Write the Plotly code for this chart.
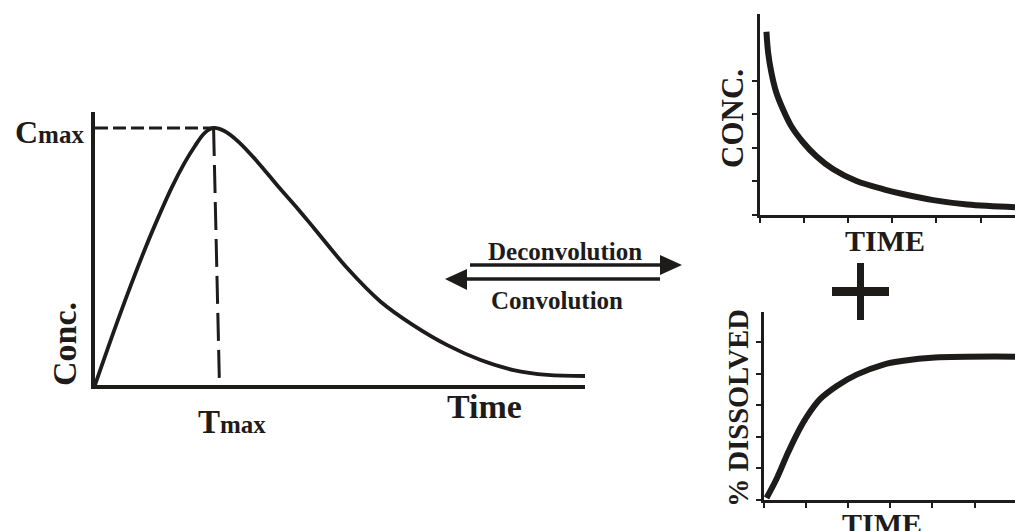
import plotly.graph_objects as go

B, H = 1015, 531
SCHWARZ = "#1e1b1b"
SCHRIFT = "Liberation Serif"

# Hauptkurve: Plasmaspiegel nach oraler Gabe
zeit = [0, 0.51, 1.02, 1.30, 1.57, 1.83, 2.03, 2.24, 2.42, 2.64, 2.93, 3.33, 3.74, 4.15, 4.47,
        5.16, 5.83, 6.50, 7.20, 7.87, 8.54, 9.23, 10.0]
konz = [0, 2.75, 5.29, 6.56, 7.70, 8.65, 9.27, 9.81, 10.0, 9.88, 9.46, 8.65, 7.72, 6.83, 6.10,
        4.52, 3.24, 2.32, 1.54, 0.97, 0.58, 0.39, 0.35]
tmax_fuss = 2.54  # Fusspunkt der Tmax-Linie auf der Zeitachse

# Einheitsantwort (i.v.)
zeit_ir = [0.157, 0.196, 0.27, 0.38, 0.53, 0.72, 0.98, 1.28, 1.66, 2.18, 2.85, 3.19, 3.93, 4.70, 5.78]
konz_ir = [5.47, 4.84, 4.24, 3.65, 3.15, 2.64, 2.17, 1.75, 1.36, 1.01, 0.74, 0.63, 0.43, 0.30, 0.22]

# Freisetzungsprofil
zeit_diss = [0.06, 0.30, 0.54, 0.77, 1.01, 1.33, 1.73, 2.20, 2.84, 3.27, 4.06, 5.96]
diss = [0.05, 0.66, 1.40, 2.05, 2.62, 3.19, 3.61, 3.97, 4.29, 4.40, 4.51, 4.54]

ticks_x = [0, 1, 2, 3, 4, 5, 6]
ticks_y_ir = [0, 1, 2, 3, 4]
ticks_y_diss = [0, 1, 2, 3, 4, 5]

cmax = max(konz)
tmax = zeit[konz.index(cmax)]


def px(x):
    return x / B


def py(y):
    return 1 - y / H


def text(s, x, y, groesse, winkel=0, xanchor="center"):
    return dict(text=s, x=px(x), y=py(y), xref="paper", yref="paper", showarrow=False,
                font=dict(family=SCHRIFT, size=groesse, color=SCHWARZ),
                textangle=winkel, xanchor=xanchor, yanchor="middle")


fig = go.Figure()

fig.add_trace(go.Scatter(x=zeit, y=konz, mode="lines", line=dict(color=SCHWARZ, width=3.8, shape="spline"),
                         xaxis="x", yaxis="y"))
fig.add_trace(go.Scatter(x=[0, tmax], y=[cmax, cmax], mode="lines",
                         line=dict(color=SCHWARZ, width=3, dash="13px,5px"), xaxis="x", yaxis="y"))
fig.add_trace(go.Scatter(x=[tmax, tmax_fuss], y=[cmax, 0], mode="lines",
                         line=dict(color=SCHWARZ, width=3, dash="28px,9px"), xaxis="x", yaxis="y"))

fig.add_trace(go.Scatter(x=zeit_ir, y=konz_ir, mode="lines", line=dict(color=SCHWARZ, width=6, shape="spline"),
                         xaxis="x2", yaxis="y2"))
fig.add_trace(go.Scatter(x=zeit_diss, y=diss, mode="lines", line=dict(color=SCHWARZ, width=6, shape="spline"),
                         xaxis="x3", yaxis="y3"))

achse = dict(showgrid=False, zeroline=False, showline=True, linecolor=SCHWARZ, showticklabels=False, fixedrange=True)
klein = dict(achse, linewidth=3, ticks="outside", ticklen=5, tickwidth=1.5, tickcolor=SCHWARZ)

fig.update_layout(
    width=B, height=H, margin=dict(l=0, r=0, t=0, b=0),
    paper_bgcolor="white", plot_bgcolor="white", showlegend=False,
    xaxis=dict(achse, linewidth=4, domain=[px(95), px(585)], range=[0, 10], anchor="y"),
    yaxis=dict(achse, linewidth=4, domain=[py(385), py(112)], range=[0, 10.62], anchor="x"),
    xaxis2=dict(klein, domain=[px(759.5), 1], range=[0, 5.78], tickvals=ticks_x, anchor="y2"),
    yaxis2=dict(klein, domain=[py(214.5), py(14)], range=[0, 6.0], tickvals=ticks_y_ir, anchor="x2"),
    xaxis3=dict(klein, domain=[px(764), 1], range=[0, 5.96], tickvals=ticks_x, anchor="y3"),
    yaxis3=dict(klein, domain=[py(499.5), py(312)], range=[0, 5.96], tickvals=ticks_y_diss, anchor="x3"),
)

# Beschriftungen
fig.update_layout(annotations=[
    text("<b>C<span style='font-size:25px'>max</span></b>", 13, 132, 32, xanchor="left"),
    text("<b>T<span style='font-size:25px'>max</span></b>", 196, 422, 33, xanchor="left"),
    text("<b>Conc.</b>", 64, 344, 34, winkel=-90),
    text("<b>Time</b>", 484, 406, 34),
    text("<b>CONC.</b>", 732, 119, 31, winkel=-90),
    text("<b>TIME</b>", 885, 240, 30),
    text("<b>% DISSOLVED</b>", 738, 408, 28.5, winkel=-90),
    text("<b>TIME</b>", 882, 523, 30),
    text("<b>Deconvolution</b>", 564.5, 251, 25),
    text("<b>Convolution</b>", 556.5, 300, 25),
])

# Pfeile und Pluszeichen
def dreieck(punkte):
    pfad = "M " + " L ".join(f"{px(x)},{py(y)}" for x, y in punkte) + " Z"
    return dict(type="path", path=pfad, xref="paper", yref="paper", fillcolor=SCHWARZ, line=dict(width=0))


fig.update_layout(shapes=[
    dict(type="line", x0=px(470), x1=px(661), y0=py(265), y1=py(265), xref="paper", yref="paper",
         line=dict(color=SCHWARZ, width=3.5)),
    dreieck([(660, 255), (682, 265), (660, 275)]),
    dict(type="line", x0=px(466), x1=px(660), y0=py(279), y1=py(279), xref="paper", yref="paper",
         line=dict(color=SCHWARZ, width=3.5)),
    dreieck([(467, 269), (445, 279), (467, 290)]),
    dict(type="rect", x0=px(857), x1=px(864), y0=py(320), y1=py(263), xref="paper", yref="paper",
         fillcolor=SCHWARZ, line=dict(width=0)),
    dict(type="rect", x0=px(832), x1=px(889), y0=py(296), y1=py(287), xref="paper", yref="paper",
         fillcolor=SCHWARZ, line=dict(width=0)),
])

fig.write_html("out.html", config=dict(displayModeBar=False),
               post_script="document.body.style.margin = '0';")
